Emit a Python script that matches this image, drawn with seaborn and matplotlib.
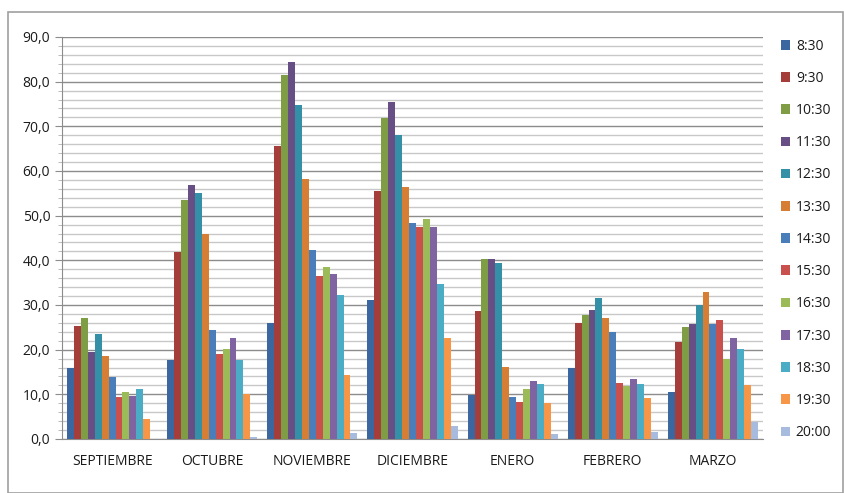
import numpy as np
import pandas as pd
import matplotlib
matplotlib.use("Agg")
import matplotlib.pyplot as plt
import seaborn as sns
from matplotlib.ticker import MultipleLocator, FuncFormatter
from matplotlib.patches import Rectangle

months = ["SEPTIEMBRE", "OCTUBRE", "NOVIEMBRE", "DICIEMBRE", "ENERO", "FEBRERO", "MARZO"]
hours = ["8:30", "9:30", "10:30", "11:30", "12:30", "13:30", "14:30",
         "15:30", "16:30", "17:30", "18:30", "19:30", "20:00"]

# one list per month, values in hour order
septiembre = [16.0, 25.2, 27.2, 19.4, 23.4, 18.5, 13.8, 9.4, 10.6, 9.7, 11.2, 4.4, 0.0]
octubre = [17.7, 41.8, 53.6, 56.9, 55.1, 46.0, 24.3, 19.0, 20.2, 22.7, 17.7, 10.0, 0.4]
noviembre = [26.0, 65.5, 81.6, 84.4, 74.8, 58.2, 42.4, 36.5, 38.5, 37.0, 32.3, 14.4, 1.3]
diciembre = [31.2, 55.5, 71.8, 75.4, 68.0, 56.5, 48.3, 47.5, 49.3, 47.5, 34.6, 22.6, 2.8]
enero = [9.9, 28.6, 40.4, 40.3, 39.4, 16.2, 9.3, 8.2, 11.1, 13.0, 12.3, 8.0, 1.1]
febrero = [15.9, 26.0, 27.7, 28.9, 31.6, 27.1, 24.0, 12.6, 11.9, 13.4, 12.3, 9.1, 1.6]
marzo = [10.5, 21.8, 25.0, 25.8, 29.9, 32.8, 25.8, 26.6, 18.0, 22.7, 20.1, 12.0, 3.7]

colors = ["#3A67A0", "#A53E3B", "#7E9D44", "#674F86", "#3490A6", "#D67E34", "#4A7EBB",
          "#C9504D", "#9BBB59", "#8064A2", "#4BACC6", "#F79646", "#A6BBDE"]

values = [septiembre, octubre, noviembre, diciembre, enero, febrero, marzo]
rows = []
for m, vals in zip(months, values):
    for h, v in zip(hours, vals):
        rows.append({"mes": m, "hora": h, "valor": v})
df = pd.DataFrame(rows)

sns.set_style("white")
plt.rcParams["font.family"] = ["Open Sans", "DejaVu Sans"]

fig = plt.figure(figsize=(8.44, 4.93), dpi=100)
ax = fig.add_axes([62 / 844, 1 - 439 / 493, (763 - 62) / 844, (439 - 37) / 493])

sns.barplot(data=df, x="mes", y="valor", hue="hora", order=months, hue_order=hours,
            palette=colors, width=0.9, saturation=1, errorbar=None, ax=ax,
            linewidth=0, zorder=3)

ax.set_ylim(0, 90)
ax.set_xlim(-0.5, len(months) - 0.5)
ax.yaxis.set_major_locator(MultipleLocator(10))
ax.yaxis.set_minor_locator(MultipleLocator(2))
ax.yaxis.set_major_formatter(FuncFormatter(lambda v, p: f"{v:.1f}".replace(".", ",")))
ax.grid(axis="y", which="major", color="#8c8c8c", linewidth=1.0, zorder=0)
ax.grid(axis="y", which="minor", color="#c8c8c8", linewidth=1.0, zorder=0)
ax.set_axisbelow(True)

for s in ["top", "right"]:
    ax.spines[s].set_visible(False)
ax.spines["left"].set_color("#8c8c8c")
ax.spines["bottom"].set_color("#8c8c8c")

ax.set_xticks(np.arange(-0.5, len(months), 1), minor=True)
ax.tick_params(axis="x", which="major", length=0, pad=11, labelsize=10, colors="#1a1a1a")
ax.tick_params(axis="x", which="minor", length=4, color="#8c8c8c")
ax.tick_params(axis="y", which="major", length=5, color="#8c8c8c", labelsize=10,
               colors="#1a1a1a", left=True)
ax.tick_params(axis="y", which="minor", length=3, color="#b0b0b0", left=True)
ax.set_xlabel("")
ax.set_ylabel("")

leg = ax.legend(loc="upper left", bbox_to_anchor=(775 / 844, 1 - 33 / 493),
                bbox_transform=fig.transFigure, frameon=False, fontsize=10,
                handlelength=0.7, handleheight=0.7, handletextpad=0.4, labelspacing=1.24,
                borderaxespad=0)
for t in leg.get_texts():
    t.set_color("#1a1a1a")

fig.patches.append(Rectangle((8 / 844, 0), 835 / 844, 1 - 12 / 493,
                             transform=fig.transFigure, fill=False,
                             edgecolor="#a0a0a0", linewidth=1.2))

fig.savefig("out.png", dpi=100)
